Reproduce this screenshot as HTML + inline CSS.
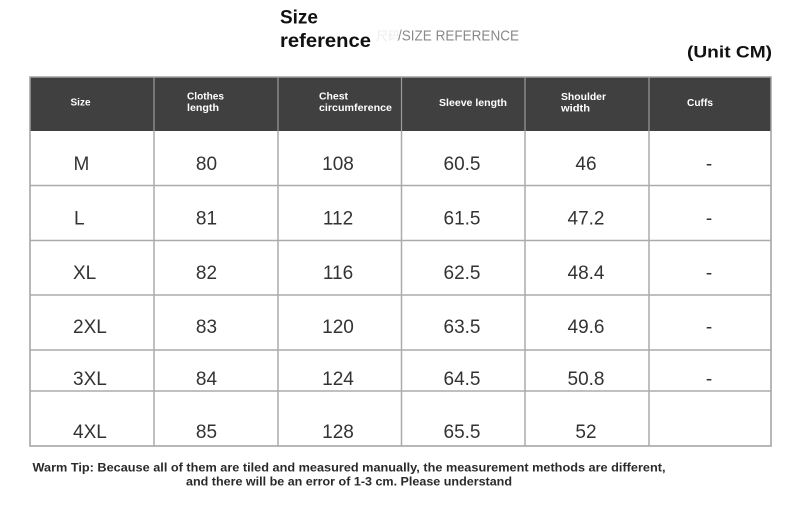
<!DOCTYPE html>
<html><head><meta charset="utf-8"><style>
html,body{margin:0;padding:0;background:#fff;width:800px;height:509px;overflow:hidden}
svg{display:block}
</style></head><body>
<svg width="800" height="509" viewBox="0 0 800 509" xmlns="http://www.w3.org/2000/svg" font-family="'Liberation Sans', 'Noto Sans CJK SC', sans-serif">
<rect x="0" y="0" width="800" height="509" fill="#fff"/>
<!-- titles -->
<text x="280" y="23.5" font-size="19.5" font-weight="bold" fill="#111" textLength="38" lengthAdjust="spacingAndGlyphs">Size</text>
<text x="280" y="47" font-size="19.5" font-weight="bold" fill="#111" textLength="91" lengthAdjust="spacingAndGlyphs">reference</text>
<text x="376" y="40" font-size="12" fill="#ececec">尺码</text>
<text x="398" y="40.5" font-size="15" fill="#8a8a8a" textLength="121" lengthAdjust="spacingAndGlyphs">/SIZE REFERENCE</text>
<text x="687" y="57.5" font-size="17" font-weight="bold" fill="#111" textLength="85" lengthAdjust="spacingAndGlyphs">(Unit CM)</text>
<!-- header -->
<rect x="30" y="77" width="741" height="54" fill="#404040"/>
<g stroke="#9a9a9a" stroke-width="1.2">
<line x1="154" y1="77" x2="154" y2="131"/>
<line x1="278" y1="77" x2="278" y2="131"/>
<line x1="401.5" y1="77" x2="401.5" y2="131"/>
<line x1="525" y1="77" x2="525" y2="131"/>
<line x1="649" y1="77" x2="649" y2="131"/>
</g>
<g fill="#fff" font-size="10.5" font-weight="bold">
<text x="70.5" y="105.5" textLength="20" lengthAdjust="spacingAndGlyphs">Size</text>
<text x="187" y="99.5" textLength="37" lengthAdjust="spacingAndGlyphs">Clothes</text>
<text x="187" y="111" textLength="32" lengthAdjust="spacingAndGlyphs">length</text>
<text x="319" y="99.5" textLength="29" lengthAdjust="spacingAndGlyphs">Chest</text>
<text x="319" y="111" textLength="73" lengthAdjust="spacingAndGlyphs">circumference</text>
<text x="439" y="106" textLength="68" lengthAdjust="spacingAndGlyphs">Sleeve length</text>
<text x="561" y="100" textLength="45" lengthAdjust="spacingAndGlyphs">Shoulder</text>
<text x="561" y="111.5" textLength="29" lengthAdjust="spacingAndGlyphs">width</text>
<text x="687" y="106" textLength="26" lengthAdjust="spacingAndGlyphs">Cuffs</text>
</g>
<!-- grid -->
<g stroke="#ababab" stroke-width="1.5" fill="none">
<rect x="30" y="77" width="741" height="369" stroke="#a0a0a0"/>
<line x1="30" y1="185.5" x2="771" y2="185.5"/>
<line x1="30" y1="240.5" x2="771" y2="240.5"/>
<line x1="30" y1="295" x2="771" y2="295"/>
<line x1="30" y1="350" x2="771" y2="350"/>
<line x1="30" y1="391" x2="771" y2="391"/>
<line x1="154" y1="131" x2="154" y2="446"/>
<line x1="278" y1="131" x2="278" y2="446"/>
<line x1="401.5" y1="131" x2="401.5" y2="446"/>
<line x1="525" y1="131" x2="525" y2="446"/>
<line x1="649" y1="131" x2="649" y2="446"/>
</g>
<!-- cells -->
<g fill="#333" font-size="19">
<text x="73.5" y="170">M</text>
<text x="74" y="224.5">L</text>
<text x="73" y="279">XL</text>
<text x="73" y="333">2XL</text>
<text x="73" y="385">3XL</text>
<text x="73" y="438">4XL</text>
</g>
<g fill="#333" font-size="19" text-anchor="middle">
<text x="206.5" y="170">80</text><text x="338" y="170">108</text><text x="462" y="170">60.5</text><text x="586" y="170">46</text><text x="709" y="170">-</text>
<text x="206.5" y="224.5">81</text><text x="338" y="224.5">112</text><text x="462" y="224.5">61.5</text><text x="586" y="224.5">47.2</text><text x="709" y="224.5">-</text>
<text x="206.5" y="279">82</text><text x="338" y="279">116</text><text x="462" y="279">62.5</text><text x="586" y="279">48.4</text><text x="709" y="279">-</text>
<text x="206.5" y="333">83</text><text x="338" y="333">120</text><text x="462" y="333">63.5</text><text x="586" y="333">49.6</text><text x="709" y="333">-</text>
<text x="206.5" y="385">84</text><text x="338" y="385">124</text><text x="462" y="385">64.5</text><text x="586" y="385">50.8</text><text x="709" y="385">-</text>
<text x="206.5" y="438">85</text><text x="338" y="438">128</text><text x="462" y="438">65.5</text><text x="586" y="438">52</text>
</g>
<!-- footer -->
<g fill="#2a2a2a" font-size="11.8" font-weight="bold">
<text x="32.5" y="471.5" textLength="633" lengthAdjust="spacingAndGlyphs">Warm Tip: Because all of them are tiled and measured manually, the measurement methods are different,</text>
<text x="186" y="485.5" textLength="326" lengthAdjust="spacingAndGlyphs">and there will be an error of 1-3 cm. Please understand</text>
</g>
</svg>
</body></html>
